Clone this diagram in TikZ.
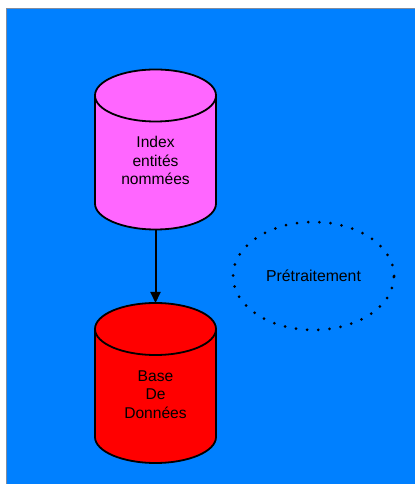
\documentclass[tikz,border=0pt]{standalone}
\usepackage{fontspec}
\setmainfont{Liberation Sans}
\usetikzlibrary{calc,arrows.meta,shapes.geometric}
\definecolor{bgblue}{HTML}{0080FF}
\definecolor{frame}{RGB}{128,140,160}
\definecolor{pinkfill}{HTML}{FF66FF}
\definecolor{redfill}{HTML}{FF0000}
\tikzset{
  cylbox/.style={minimum width=121pt,minimum height=160pt,inner sep=0pt,outer sep=0pt},
  cyledge/.style={draw=black,line width=1.8pt,line join=round},
  cyltext/.style={align=center,font=\fontsize{15.6}{18.3}\selectfont,text=black},
  link/.style={draw=black,line width=2pt,arrows={-Triangle[length=11pt,width=10pt]}},
  dotted ring/.style={ellipse,draw=black,line width=3pt,line cap=round,
    dash pattern=on 0pt off 11.2pt,minimum width=161pt,minimum height=108pt,
    font=\fontsize{15.8}{18.3}\selectfont,text=black}
}
% database cylinder drawn around a named box node
\newcommand\dbcylinder[2]{%
  \draw[cyledge,fill=#2]
    ([yshift=-26pt]#1.north west) -- ([yshift=26pt]#1.south west)
    arc[start angle=180,end angle=360,x radius=60.5pt,y radius=26pt]
    -- ([yshift=-26pt]#1.north east)
    arc[start angle=0,end angle=180,x radius=60.5pt,y radius=26pt] -- cycle;
  \draw[cyledge] ([yshift=-26pt]#1.north west)
    arc[start angle=180,end angle=360,x radius=60.5pt,y radius=26pt];}
\begin{document}
\begin{tikzpicture}[x=1pt,y=1pt]
  \useasboundingbox (0,0) rectangle (415,484);
  \fill[white] (0,0) rectangle (415,484);
  \fill[bgblue] (6.5,0) rectangle (415,475.5);
  \draw[frame,line width=1pt] (6.5,0) -- (6.5,475.5) -- (415,475.5);

  % index cylinder
  \node[cylbox] (idx) at (155.5,334.5) {};
  \dbcylinder{idx}{pinkfill}
  \node[cyltext] (idxtext) at ([yshift=-11pt]idx.center) {Index\\entités\\nommées};

  % database cylinder
  \node[cylbox] (bdd) at (155.5,101) {};
  \dbcylinder{bdd}{redfill}
  \node[cyltext] (bddtext) at ([yshift=-11.5pt]bdd.center) {Base\\De\\Données};

  \draw[link,line width=2pt] (idx.south) -- (bdd.north);

  % preprocessing step
  \node[dotted ring] (pre) at (313.5,208) {Prétraitement};
\end{tikzpicture}
\end{document}
